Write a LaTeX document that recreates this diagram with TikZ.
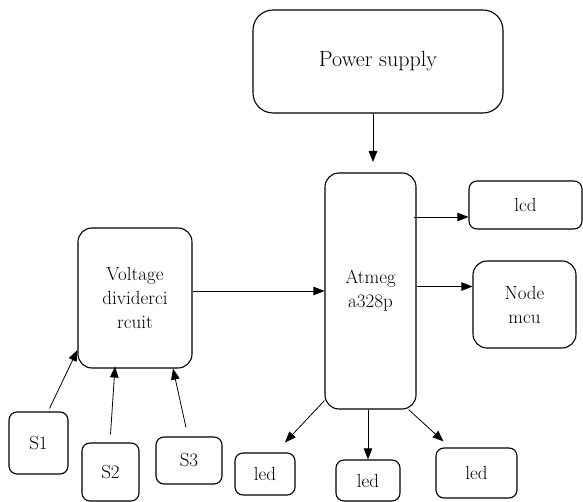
\documentclass[tikz,border=0pt]{standalone}
\usetikzlibrary{arrows.meta}

\begin{document}
\begin{tikzpicture}[
x=1pt, y=-1pt,
box/.style={draw, line width=1.1pt, rounded corners=14pt, inner sep=0pt, align=center, font=\fontsize{19}{24}\selectfont},
sbox/.style={box, rounded corners=8pt},
arrow/.style={-{Triangle[length=11pt,width=8.5pt]}, line width=0.8pt}
]
\useasboundingbox (0,0) rectangle (583,502);
\node[box, minimum width=250pt, minimum height=103pt, rounded corners=20pt, font=\fontsize{22}{28}\selectfont] (power) at (378,61.5) {Power supply};
\node[box, minimum width=91pt, minimum height=236pt] (atmega) at (370.5,291) {Atmeg\\a328p};
\node[box, minimum width=114pt, minimum height=140pt] (divider) at (135,298) {Voltage\\dividerci\\rcuit};
\node[sbox, minimum width=113pt, minimum height=48pt] (lcd) at (525.5,205) {lcd};
\node[box, minimum width=103pt, minimum height=87pt] (mcu) at (524.5,304.5) {Node\\mcu};
\node[sbox, minimum width=59pt, minimum height=62pt] (s1) at (38.5,443) {S1};
\node[sbox, minimum width=57pt, minimum height=58pt] (s2) at (110.5,472) {S2};
\node[sbox, minimum width=66pt, minimum height=47pt] (s3) at (189,460.5) {S3};
\node[sbox, minimum width=60pt, minimum height=42pt] (led1) at (265,474) {led};
\node[sbox, minimum width=64pt, minimum height=41pt] (led2) at (368,480.5) {led};
\node[sbox, minimum width=81pt, minimum height=50pt] (led3) at (476.5,473) {led};

\draw[arrow] (power.south -| 373,0) -- (373,162);
\draw[arrow] (divider.east |- atmega.west) -- (atmega.west);
\draw[arrow] ([xshift=-3pt,yshift=-12pt]lcd.west -| atmega.east) -- ([yshift=-12pt]lcd.west);
\draw[arrow] ([yshift=18pt]mcu.west -| atmega.east) -- ([yshift=18pt]mcu.west);
\draw[arrow] ([xshift=11pt,yshift=3pt]s1.north) -- ([yshift=-52pt]divider.west);
\draw[arrow] ([yshift=8pt]s2.north) -- ([xshift=-20pt,yshift=2pt]divider.south);
\draw[arrow] ([xshift=-3pt,yshift=9pt]s3.north) -- ([xshift=38pt]divider.south);
\draw[arrow] ([yshift=9pt]atmega.south west) -- ([xshift=20pt,yshift=10pt]led1.north);
\draw[arrow] (atmega.south -| led2.north) -- (led2.north);
\draw[arrow] ([xshift=-8pt]atmega.south east) -- ([xshift=-33pt,yshift=6pt]led3.north);
\end{tikzpicture}
\end{document}
